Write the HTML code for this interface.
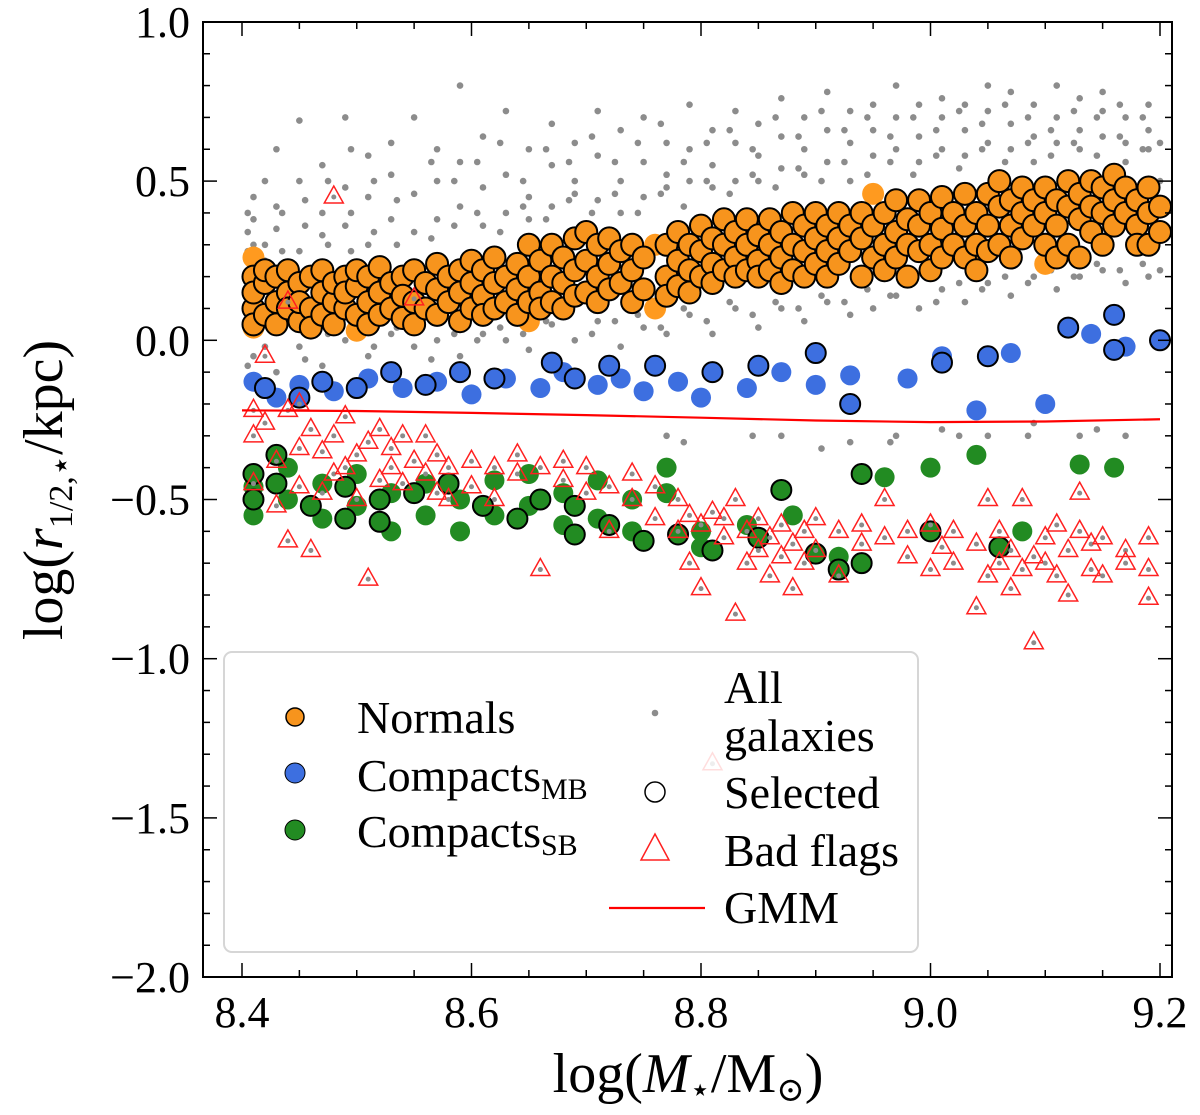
<!DOCTYPE html>
<html><head><meta charset="utf-8"><style>
body{margin:0;background:#fff}
svg text{font-family:"Liberation Serif","DejaVu Serif",serif;fill:#000}
</style></head><body>
<svg id="chart" width="1200" height="1110" viewBox="0 0 1200 1110" xmlns="http://www.w3.org/2000/svg">
<g id="marks"></g>
<g id="axes"></g>
</svg>
<script>
const xTicks=[8.4,8.6,8.8,9.0,9.2];
const xTickLabels=["8.4","8.6","8.8","9.0","9.2"];
const yTicks=[1.0,0.5,0.0,-0.5,-1.0,-1.5,-2.0];
const yTickLabels=["1.0","0.5","0.0","\u22120.5","\u22121.0","\u22121.5","\u22122.0"];
const gmmX=[8.4,8.5,8.6,8.7,8.8,8.9,9.0,9.1,9.2];
const gmmY=[-0.22,-0.222,-0.228,-0.235,-0.243,-0.252,-0.257,-0.255,-0.248];
const greyGroups=[[8.41,[0.3,0.45,-0.05,0.38,0.02]],[8.43,[0.6,0.35,-0.1,0.42]],[8.45,[0.69,0.28,0.5,-0.02]],[8.47,[0.4,0.55,0.33,-0.08]],[8.49,[0.7,0.36,0.48,0.0]],[8.51,[0.45,0.3,0.58,-0.05]],[8.53,[0.38,0.52,0.62,0.02]],[8.55,[0.46,0.34,0.7,-0.02]],[8.57,[0.5,0.38,0.6,0.0]],[8.59,[0.42,0.56,0.8,-0.05]],[8.61,[0.48,0.36,0.64,0.02]],[8.63,[0.52,0.4,0.72,0.0]],[8.65,[0.45,0.6,0.38,-0.03]],[8.67,[0.55,0.42,0.68,0.05]],[8.69,[0.5,0.62,0.46,0.0]],[8.71,[0.58,0.44,0.72,0.06]],[8.73,[0.5,0.66,0.4,-0.02]],[8.75,[0.56,0.7,0.45,0.04]],[8.77,[0.52,0.62,0.48,0.02,-0.3]],[8.79,[0.6,0.5,0.74,0.08]],[8.81,[0.55,0.66,0.48,0.02]],[8.83,[0.62,0.5,0.72,0.1]],[8.85,[0.58,0.68,0.5,0.04]],[8.87,[0.64,0.54,0.76,0.1,-0.3]],[8.89,[0.6,0.7,0.52,0.06]],[8.91,[0.66,0.56,0.78,0.12]],[8.93,[0.62,0.72,0.5,0.08,-0.32]],[8.95,[0.66,0.58,0.74,0.1]],[8.97,[0.7,0.6,0.8,0.14,-0.3]],[8.99,[0.64,0.74,0.56,0.1]],[9.01,[0.7,0.6,0.76,0.16,-0.28]],[9.03,[0.66,0.74,0.58,0.12]],[9.05,[0.72,0.62,0.8,0.18,-0.3]],[9.07,[0.68,0.78,0.6,0.14]],[9.09,[0.74,0.64,0.56,0.2,-0.26]],[9.11,[0.7,0.62,0.8,0.16]],[9.13,[0.76,0.66,0.6,0.2,-0.3]],[9.15,[0.72,0.64,0.78,0.22]],[9.17,[0.7,0.62,0.56,0.18,-0.3]],[9.19,[0.74,0.66,0.6,0.2]]];
const greyGroups2=[[8.405,[0.34,0.4,-0.08,0.28]],[8.42,[0.3,0.5,0.25,-0.02]],[8.435,[0.4,0.28,0.05]],[8.455,[0.36,0.44,-0.06]],[8.475,[0.3,0.5,0.02]],[8.495,[0.4,0.28,0.6]],[8.515,[0.34,0.5,-0.02]],[8.535,[0.3,0.44,0.04]],[8.565,[0.32,0.56,-0.06]],[8.585,[0.36,0.5,0.02]],[8.605,[0.4,0.56,0.0]],[8.625,[0.34,0.62,0.04]],[8.645,[0.42,0.5,0.02]],[8.665,[0.38,0.6,0.06]],[8.685,[0.44,0.56,0.08]],[8.705,[0.4,0.64,0.02]],[8.725,[0.46,0.56,0.06]],[8.745,[0.4,0.62,0.08]],[8.765,[0.46,0.68,0.04]],[8.785,[0.42,0.56,0.1,-0.32]],[8.805,[0.5,0.62,0.06]],[8.825,[0.46,0.66,0.12]],[8.845,[0.52,0.6,0.08,-0.3]],[8.865,[0.48,0.7,0.12]],[8.885,[0.54,0.64,0.1]],[8.905,[0.5,0.72,0.14,-0.34]],[8.925,[0.56,0.66,0.12]],[8.945,[0.52,0.7,0.16]],[8.965,[0.56,0.64,0.14,-0.32]],[8.985,[0.52,0.7,0.18]],[9.005,[0.58,0.66,0.12]],[9.025,[0.54,0.72,0.18,-0.3]],[9.045,[0.6,0.68,0.16]],[9.065,[0.56,0.74,0.2]],[9.085,[0.62,0.7,0.18,-0.3]],[9.105,[0.58,0.66,0.22]],[9.125,[0.62,0.72,0.2]],[9.145,[0.58,0.7,0.24,-0.28]],[9.165,[0.64,0.74,0.22]],[9.185,[0.6,0.7,0.24]],[9.2,[0.62,0.5,0.22]]];
const normalsGroups=[[8.41,[0.1,0.2,0.15,0.05]],[8.42,[0.08,0.18,0.22]],[8.43,[0.12,0.05,0.2]],[8.44,[0.15,0.1,0.22]],[8.45,[0.06,0.18,0.12]],[8.46,[0.1,0.2,0.04]],[8.47,[0.15,0.08,0.22]],[8.48,[0.12,0.18,0.05]],[8.49,[0.2,0.1,0.15]],[8.5,[0.08,0.17,0.22]],[8.51,[0.12,0.2,0.05]],[8.52,[0.15,0.08,0.23]],[8.53,[0.1,0.18]],[8.54,[0.2,0.07,0.14]],[8.55,[0.12,0.22,0.05]],[8.56,[0.18,0.1]],[8.57,[0.08,0.16,0.24]],[8.58,[0.12,0.2]],[8.59,[0.06,0.15,0.22]],[8.6,[0.1,0.18,0.25]],[8.61,[0.14,0.22,0.08]],[8.62,[0.18,0.1,0.26]],[8.63,[0.12,0.2]],[8.64,[0.16,0.24,0.08]],[8.65,[0.2,0.12,0.3]],[8.66,[0.15,0.25,0.1]],[8.67,[0.2,0.3,0.12]],[8.68,[0.18,0.26,0.1]],[8.69,[0.22,0.32,0.14]],[8.7,[0.15,0.25,0.34]],[8.71,[0.2,0.12,0.3]],[8.72,[0.24,0.16,0.32]],[8.73,[0.18,0.28]],[8.74,[0.22,0.12,0.3]],[8.75,[0.16,0.26]],[8.77,[0.2,0.3,0.14]],[8.78,[0.25,0.34,0.17]],[8.79,[0.22,0.3,0.15]],[8.8,[0.28,0.2,0.36]],[8.81,[0.24,0.32,0.18]],[8.82,[0.3,0.22,0.38]],[8.83,[0.26,0.34,0.2]],[8.84,[0.3,0.22,0.38]],[8.85,[0.25,0.33,0.2]],[8.86,[0.3,0.38,0.22]],[8.87,[0.26,0.34,0.18]],[8.88,[0.3,0.4,0.22]],[8.89,[0.28,0.36,0.2]],[8.9,[0.32,0.24,0.4]],[8.91,[0.28,0.36,0.2]],[8.92,[0.32,0.4,0.24]],[8.93,[0.28,0.36]],[8.94,[0.2,0.32,0.4]],[8.95,[0.26,0.36]],[8.96,[0.3,0.4,0.22]],[8.97,[0.34,0.26,0.44]],[8.98,[0.3,0.38,0.2]],[8.99,[0.36,0.44,0.28]],[9.0,[0.3,0.4,0.22]],[9.01,[0.35,0.45,0.26]],[9.02,[0.3,0.4]],[9.03,[0.36,0.46,0.26]],[9.04,[0.3,0.4,0.22]],[9.05,[0.36,0.46,0.28]],[9.06,[0.42,0.3,0.5]],[9.07,[0.36,0.44,0.26]],[9.08,[0.4,0.32,0.48]],[9.09,[0.36,0.44]],[9.1,[0.4,0.3,0.48]],[9.11,[0.36,0.44,0.26]],[9.12,[0.42,0.5,0.3]],[9.13,[0.38,0.46,0.26]],[9.14,[0.42,0.5,0.34]],[9.15,[0.4,0.48,0.3]],[9.16,[0.44,0.36,0.52]],[9.17,[0.4,0.48]],[9.18,[0.36,0.44,0.3]],[9.19,[0.4,0.48,0.3]],[9.2,[0.34,0.42]]];
const normalsOnlyGroups=[[8.41,[0.04,0.26]],[8.5,[0.03]],[8.65,[0.06]],[8.76,[0.1,0.3]],[8.95,[0.46]],[9.04,[0.28]],[9.1,[0.24]]];
const blueGroups=[[8.41,[-0.13]],[8.43,[-0.18]],[8.45,[-0.14]],[8.48,[-0.16]],[8.51,[-0.12]],[8.54,[-0.15]],[8.57,[-0.13]],[8.6,[-0.17]],[8.63,[-0.12]],[8.66,[-0.15]],[8.68,[-0.1]],[8.71,[-0.14]],[8.73,[-0.12]],[8.75,[-0.16]],[8.78,[-0.13]],[8.8,[-0.18]],[8.84,[-0.15]],[8.87,[-0.1]],[8.9,[-0.14]],[8.93,[-0.11]],[8.98,[-0.12]],[9.01,[-0.05]],[9.04,[-0.22]],[9.07,[-0.04]],[9.1,[-0.2]],[9.14,[0.02]],[9.17,[-0.02]]];
const blueSelGroups=[[8.42,[-0.15]],[8.45,[-0.18]],[8.47,[-0.13]],[8.5,[-0.15]],[8.53,[-0.1]],[8.56,[-0.14]],[8.59,[-0.1]],[8.62,[-0.12]],[8.67,[-0.07]],[8.69,[-0.12]],[8.72,[-0.08]],[8.76,[-0.08]],[8.81,[-0.1]],[8.85,[-0.08]],[8.9,[-0.04]],[8.93,[-0.2]],[9.01,[-0.07]],[9.05,[-0.05]],[9.12,[0.04]],[9.16,[-0.03,0.08]],[9.2,[0.0]]];
const greenGroups=[[8.41,[-0.46,-0.55]],[8.44,[-0.5,-0.4]],[8.47,[-0.56,-0.45]],[8.5,[-0.52,-0.42]],[8.53,[-0.6,-0.48]],[8.56,[-0.45,-0.55]],[8.59,[-0.5,-0.6]],[8.62,[-0.44,-0.55]],[8.65,[-0.52,-0.42]],[8.68,[-0.48,-0.58]],[8.71,[-0.44,-0.56]],[8.74,[-0.5,-0.6]],[8.77,[-0.48,-0.4]],[8.8,[-0.6,-0.65]],[8.84,[-0.58]],[8.88,[-0.55]],[8.92,[-0.68]],[8.96,[-0.43]],[9.0,[-0.4]],[9.04,[-0.36]],[9.08,[-0.6]],[9.13,[-0.39]],[9.16,[-0.4]]];
const greenSelGroups=[[8.41,[-0.5,-0.42]],[8.43,[-0.45,-0.36]],[8.46,[-0.52]],[8.49,[-0.56,-0.46]],[8.52,[-0.5,-0.57]],[8.55,[-0.48]],[8.58,[-0.45]],[8.61,[-0.52]],[8.64,[-0.56]],[8.66,[-0.5]],[8.69,[-0.61,-0.52]],[8.72,[-0.58]],[8.75,[-0.63]],[8.78,[-0.61]],[8.81,[-0.66]],[8.85,[-0.62]],[8.87,[-0.47]],[8.9,[-0.67]],[8.92,[-0.72]],[8.94,[-0.42,-0.7]],[9.0,[-0.6]],[9.06,[-0.65]]];
const badGroups=[[8.41,[-0.22,-0.3,-0.45]],[8.42,[-0.05,-0.26]],[8.43,[-0.38,-0.52]],[8.44,[0.12,-0.63,-0.22]],[8.45,[-0.2,-0.34,-0.46]],[8.46,[-0.28,-0.66]],[8.47,[-0.35,-0.48]],[8.48,[0.45,-0.3,-0.42]],[8.49,[-0.24,-0.4]],[8.5,[-0.36,-0.5]],[8.51,[-0.32,-0.75]],[8.52,[-0.28,-0.44]],[8.53,[-0.4,-0.34]],[8.54,[-0.3,-0.45]],[8.55,[0.13,-0.38]],[8.56,[-0.42,-0.3]],[8.57,[-0.36,-0.48]],[8.58,[-0.4,-0.5]],[8.6,[-0.38,-0.46]],[8.62,[-0.4,-0.5]],[8.64,[-0.42,-0.36]],[8.66,[-0.72,-0.4]],[8.68,[-0.44,-0.38]],[8.7,[-0.4,-0.48]],[8.72,[-0.46,-0.6]],[8.74,[-0.5,-0.42]],[8.76,[-0.56,-0.46]],[8.78,[-0.6,-0.5]],[8.79,[-0.7,-0.55]],[8.8,[-0.58,-0.78]],[8.81,[-1.33,-0.54]],[8.82,[-0.56,-0.62]],[8.83,[-0.86,-0.5]],[8.84,[-0.6,-0.7]],[8.85,[-0.56,-0.66]],[8.86,[-0.62,-0.74]],[8.87,[-0.58,-0.68]],[8.88,[-0.64,-0.78]],[8.89,[-0.6,-0.7]],[8.9,[-0.66,-0.56]],[8.92,[-0.6,-0.74]],[8.94,[-0.64,-0.58]],[8.96,[-0.62,-0.5]],[8.98,[-0.68,-0.6]],[9.0,[-0.58,-0.72]],[9.01,[-0.65]],[9.02,[-0.7,-0.6]],[9.04,[-0.84,-0.64]],[9.05,[-0.5,-0.74]],[9.06,[-0.7,-0.6]],[9.07,[-0.78,-0.66]],[9.08,[-0.72,-0.5]],[9.09,[-0.95,-0.68]],[9.1,[-0.7,-0.62]],[9.11,[-0.58,-0.74]],[9.12,[-0.66,-0.8]],[9.13,[-0.6,-0.48]],[9.14,[-0.72,-0.64]],[9.15,[-0.62,-0.74]],[9.17,[-0.66,-0.7]],[9.19,[-0.62,-0.81,-0.72]]];

const X0=8.4,PX0=242,XS=1147.5,Y0=0,PY0=340.3,YS=318.4;
const sx=v=>PX0+(v-X0)*XS, sy=v=>PY0-(v-Y0)*YS;
const NS="http://www.w3.org/2000/svg";
function mk(tag,attrs,parent){const e=document.createElementNS(NS,tag);for(const k in attrs)e.setAttribute(k,attrs[k]);parent.appendChild(e);return e;}
const marks=document.getElementById('marks');
function flat(groups){const o=[];groups.forEach(g=>g[1].forEach(y=>o.push([g[0],y])));return o;}
flat(greyGroups).concat(flat(greyGroups2)).forEach(p=>{const e=mk('circle',{cx:sx(p[0]),cy:sy(p[1]),r:3.3,fill:'#8c8c8c'},marks);

});
function circles(groups,fill,stroke,r,name){flat(groups).forEach(p=>{const e=mk('circle',{cx:sx(p[0]),cy:sy(p[1]),r:r,fill:fill,stroke:stroke,'stroke-width':stroke=='none'?0:2},marks);

});}
circles(normalsOnlyGroups,'#ff9a1f','none',11,'normals-point');
circles(normalsGroups,'#f7941d','#000',11,'normals-selected-point');
circles(blueGroups,'#3d6fe0','none',10,'compacts-mb-point');
circles(blueSelGroups,'#3d6fe0','#000',10,'compacts-mb-selected-point');
circles(greenGroups,'#228b22','none',10,'compacts-sb-point');
circles(greenSelGroups,'#228b22','#000',10,'compacts-sb-selected-point');
flat(badGroups).forEach(p=>{const x=sx(p[0]),y=sy(p[1]);
const e=mk('polygon',{points:`${x},${y-11} ${x-9.5},${y+6} ${x+9.5},${y+6}`,fill:'none',stroke:'#ff2020','stroke-width':1.5},marks);


mk('circle',{cx:x,cy:y,r:2.5,fill:'#8c8c8c'},marks);});
const gl=mk('polyline',{points:gmmX.map((v,i)=>sx(v)+','+sy(gmmY[i])).join(' '),fill:'none',stroke:'#ff0000','stroke-width':2.2},marks);



const ax=document.getElementById('axes');
const L=203,R=1172,T=22,B=977;
mk('rect',{x:L,y:T,width:R-L,height:B-T,fill:'none',stroke:'#000','stroke-width':2},ax);
for(let v=8.35;v<=9.21;v+=0.05){const x=sx(v);if(x<L||x>R)continue;const major=Math.abs(Math.round(v*5)-v*5)<1e-6;const len=major?14:7;
mk('line',{x1:x,y1:B,x2:x,y2:B-len,stroke:'#000','stroke-width':1.5},ax);mk('line',{x1:x,y1:T,x2:x,y2:T+len,stroke:'#000','stroke-width':1.5},ax);}
for(let v=-2;v<=1.001;v+=0.1){const y=sy(v);const major=Math.abs(Math.round(v*2)-v*2)<1e-6;const len=major?14:7;
mk('line',{x1:L,y1:y,x2:L+len,y2:y,stroke:'#000','stroke-width':1.5},ax);mk('line',{x1:R,y1:y,x2:R-len,y2:y,stroke:'#000','stroke-width':1.5},ax);}
xTicks.forEach((v,i)=>{const t=mk('text',{x:sx(v),y:1027,'text-anchor':'middle','font-size':44},ax);t.textContent=xTickLabels[i];

});
yTicks.forEach((v,i)=>{const t=mk('text',{x:190,y:sy(v)+15,'text-anchor':'end','font-size':44},ax);t.textContent=yTickLabels[i];

});
</script>
<svg style="position:absolute;left:0;top:0" width="1200" height="1110">
<text x="688" y="1092" text-anchor="middle" font-size="56">log(<tspan font-style="italic">M</tspan><tspan font-size="34" dy="9">⋆</tspan><tspan dy="-9">/M</tspan><tspan font-size="34" dy="9">⊙</tspan><tspan dy="-9">)</tspan></text>
<text transform="translate(62,490) rotate(-90)" text-anchor="middle" font-size="56">log(<tspan font-style="italic">r</tspan><tspan font-size="34" dy="10">1/2,⋆</tspan><tspan dy="-10">/kpc)</tspan></text>
<g>
<rect x="224" y="652" width="694" height="300" rx="8" fill="#fff" fill-opacity="0.85" stroke="#d6d6d6" stroke-width="2"/>
<circle cx="295" cy="717" r="9" fill="#f7941d" stroke="#000" stroke-width="1.5"/>
<text x="357" y="733" font-size="46">Normals</text>
<circle cx="295" cy="773" r="10" fill="#3d6fe0" stroke="#000" stroke-width="1"/>
<text x="357" y="791" font-size="46">Compacts<tspan font-size="30" dy="8">MB</tspan></text>
<circle cx="295" cy="830" r="10" fill="#228b22" stroke="#000" stroke-width="1"/>
<text x="357" y="847" font-size="46">Compacts<tspan font-size="30" dy="8">SB</tspan></text>
<circle cx="655" cy="713" r="3.3" fill="#8c8c8c"/>
<text x="724" y="703" font-size="46">All</text>
<text x="724" y="751" font-size="46">galaxies</text>
<circle cx="655" cy="792" r="10" fill="none" stroke="#000" stroke-width="1.5"/>
<text x="724" y="808" font-size="46">Selected</text>
<polygon points="655,834 641,860 669,860" fill="none" stroke="#ff2020" stroke-width="1.5"/>
<text x="724" y="866" font-size="46">Bad flags</text>
<line x1="609" y1="908" x2="705" y2="908" stroke="#ff0000" stroke-width="2.2"/>
<text x="724" y="923" font-size="46">GMM</text>
</g>
</svg>
</body></html>
